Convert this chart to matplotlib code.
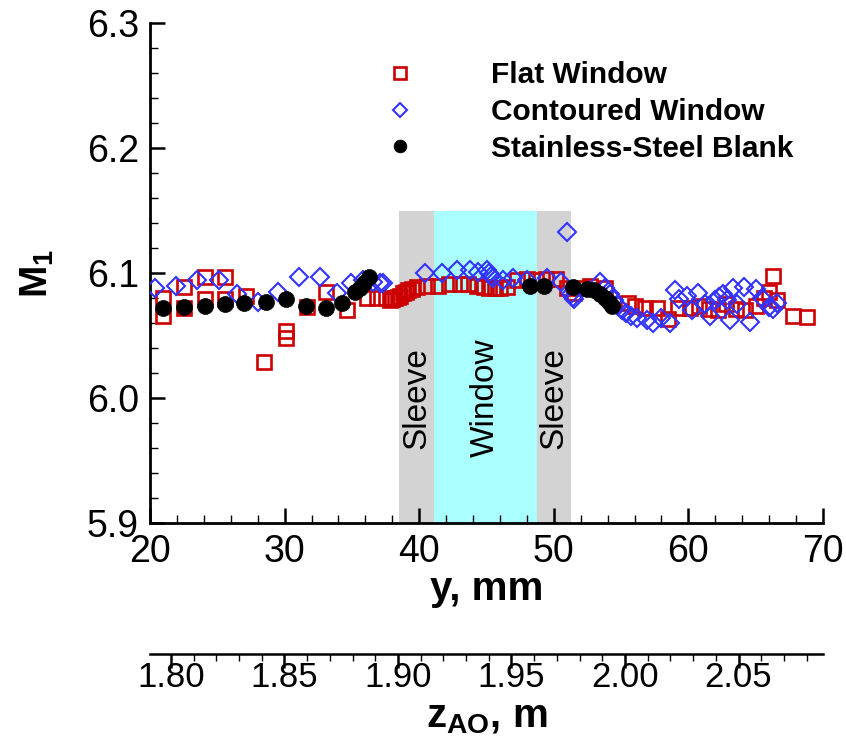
import matplotlib
matplotlib.use("Agg")
import matplotlib.pyplot as plt
from matplotlib.ticker import MultipleLocator, FormatStrFormatter

plt.rcParams['font.family'] = ['Liberation Sans', 'DejaVu Sans']
plt.rcParams['mathtext.fontset'] = 'custom'
plt.rcParams['mathtext.rm'] = 'Liberation Sans'
plt.rcParams['mathtext.bf'] = 'Liberation Sans:bold'

# ---- data ----
flat_y = [21.0, 21.0, 22.5, 22.5, 24.1, 24.1, 25.6, 25.6, 27.1, 28.5, 30.1, 30.1,
          31.7, 33.1, 34.6, 36.1, 36.9, 37.5, 37.8, 38.0, 38.2, 38.4, 38.6, 38.8,
          39.0, 39.2, 39.5, 39.8, 40.6, 41.4, 42.2, 43.0, 43.6, 44.3, 44.8, 45.2,
          45.6, 46.0, 46.5, 47.3, 48.0, 48.7, 49.4, 50.2, 51.0, 51.5, 52.0, 52.7,
          53.8, 55.5, 56.0, 56.8, 57.7, 58.5, 59.2, 60.1, 60.8, 61.5, 62.2, 62.8,
          63.5, 64.2, 65.0, 65.6, 66.0, 66.3, 66.6, 67.8, 68.8]
flat_M = [6.066, 6.080, 6.072, 6.089, 6.079, 6.097, 6.079, 6.097, 6.082, 6.029, 6.054, 6.048,
          6.073, 6.085, 6.070, 6.080, 6.080, 6.080, 6.078, 6.079, 6.080, 6.081, 6.082, 6.084,
          6.085, 6.086, 6.087, 6.089, 6.090, 6.090, 6.091, 6.091, 6.091, 6.090, 6.089, 6.088,
          6.088, 6.088, 6.089, 6.094, 6.095, 6.094, 6.095, 6.095, 6.088, 6.084, 6.088, 6.090,
          6.088, 6.076, 6.074, 6.072, 6.072, 6.063, 6.072, 6.072, 6.074, 6.071, 6.070, 6.075,
          6.071, 6.070, 6.074, 6.080, 6.085, 6.098, 6.078, 6.066, 6.065]

cont_y = [20.4, 21.9, 23.5, 25.1, 26.5, 28.0, 29.5, 31.1, 32.6, 33.9, 34.9, 35.8, 36.6,
          37.1, 37.3, 40.4, 41.7, 42.8, 43.8, 44.4, 45.0, 45.2, 45.3, 45.5, 46.2, 47.0,
          48.0, 49.5, 50.5, 51.0, 51.3, 51.4, 51.5, 53.4, 53.8, 54.2, 54.5, 54.8, 55.1,
          55.4, 55.7, 56.2, 56.9, 57.4, 58.0, 58.6, 59.0, 59.3, 59.9, 60.3, 60.7, 61.2,
          61.6, 62.0, 62.3, 62.6, 62.9, 63.1, 63.3, 63.6, 64.1, 64.6, 65.0, 65.5, 66.0,
          66.3, 66.6]
cont_M = [6.088, 6.090, 6.094, 6.094, 6.083, 6.077, 6.085, 6.097, 6.097, 6.084, 6.092, 6.094, 6.093,
          6.092, 6.092, 6.100, 6.100, 6.102, 6.102, 6.101, 6.102, 6.100, 6.098, 6.096, 6.094, 6.096,
          6.094, 6.096, 6.093, 6.133, 6.083, 6.081, 6.079, 6.093, 6.088, 6.083, 6.078, 6.074, 6.070,
          6.068, 6.066, 6.064, 6.062, 6.060, 6.064, 6.060, 6.086, 6.079, 6.082, 6.070, 6.084, 6.075,
          6.066, 6.078, 6.081, 6.083, 6.078, 6.062, 6.088, 6.075, 6.089, 6.061, 6.087, 6.080, 6.073,
          6.071, 6.076]

blank_y = [21.0, 22.5, 24.1, 25.6, 27.0, 28.6, 30.1, 31.6, 33.1, 34.3, 35.2, 35.6, 35.9,
           36.3, 48.2, 49.3, 51.4, 52.5, 53.0, 53.4, 53.8, 54.1, 54.3]
blank_M = [6.072, 6.073, 6.074, 6.075, 6.076, 6.077, 6.079, 6.074, 6.072, 6.076, 6.085, 6.088, 6.092,
           6.097, 6.090, 6.090, 6.089, 6.087, 6.086, 6.083, 6.080, 6.077, 6.074]

labels = ["Flat Window", "Contoured Window", "Stainless-Steel Blank"]
sleeve_left = (38.5, 41.1)
window = (41.1, 48.75)
sleeve_right = (48.75, 51.3)
band_top = 6.15

z_ticks = [1.80, 1.85, 1.90, 1.95, 2.00, 2.05]
z_lim = (1.7908, 2.0872)

# ---- figure ----
fig = plt.figure(figsize=(8.46, 7.45), dpi=100)
ax = fig.add_axes([150/846, 1-523/745, 673/846, 500/745])

ax.axvspan(*sleeve_left, ymin=0, ymax=(band_top-5.9)/0.4, color='#d3d3d3', lw=0, zorder=0)
ax.axvspan(*window, ymin=0, ymax=(band_top-5.9)/0.4, color='#aaffff', lw=0, zorder=0)
ax.axvspan(*sleeve_right, ymin=0, ymax=(band_top-5.9)/0.4, color='#d3d3d3', lw=0, zorder=0)

for txt, span in [("Sleeve", sleeve_left), ("Window", window), ("Sleeve", sleeve_right)]:
    ax.text((span[0]+span[1])/2, 6.0, txt, rotation=90, ha='center', va='center',
            fontsize=24, zorder=1)

h1, = ax.plot(flat_y, flat_M, ls='none', marker='s', ms=10, mfc='none', mec='#cc0000',
              mew=1.9, label=labels[0], zorder=3)
h2, = ax.plot(cont_y, cont_M, ls='none', marker='D', ms=9.3, mfc='none', mec='#3333ff',
              mew=1.5, label=labels[1], zorder=4)
h3, = ax.plot(blank_y, blank_M, ls='none', marker='o', ms=11.5, mfc='black', mec='black',
              mew=0.5, label=labels[2], zorder=5)

ax.set_xlim(20, 70)
ax.set_ylim(5.9, 6.3)
ax.xaxis.set_major_locator(MultipleLocator(10))
ax.xaxis.set_minor_locator(MultipleLocator(2))
ax.yaxis.set_major_locator(MultipleLocator(0.1))
ax.yaxis.set_minor_locator(MultipleLocator(0.02))
ax.yaxis.set_major_formatter(FormatStrFormatter('%.1f'))
for s in ['top', 'right']:
    ax.spines[s].set_visible(False)
for s in ['left', 'bottom']:
    ax.spines[s].set_linewidth(2)
ax.tick_params(which='major', direction='in', length=11, width=1.8, labelsize=27)
ax.tick_params(which='minor', direction='in', length=6, width=1.0)
ax.tick_params(axis='x', which='major', pad=8)
ax.tick_params(axis='y', which='major', pad=8)
ax.patch.set_alpha(0)

ax.set_xlabel('y, mm', fontsize=29, fontweight='bold', labelpad=0)
ax.set_ylabel(r'$\mathbf{M_1}$', fontsize=28, labelpad=22)

leg = ax.legend(loc='upper left', bbox_to_anchor=(0.349, 0.924), frameon=False,
                prop={'weight': 'bold', 'size': 21.5}, handlelength=1.0,
                handletextpad=2.55, labelspacing=0.30, borderpad=0, borderaxespad=0,
                markerscale=0.8)

# ---- secondary z axis ----
ax2 = fig.add_axes([150/846, 1-654/745, 673/846, 0.001])
ax2.set_xlim(*z_lim)
ax2.set_xticks(z_ticks)
ax2.xaxis.set_major_formatter(FormatStrFormatter('%.2f'))
ax2.xaxis.set_minor_locator(MultipleLocator(0.01))
ax2.set_yticks([])
for s in ['top', 'right', 'left']:
    ax2.spines[s].set_visible(False)
ax2.spines['bottom'].set_linewidth(1.8)
ax2.patch.set_alpha(0)
ax2.tick_params(axis='x', which='major', direction='out', length=0, labelsize=25, pad=5)
ax2.tick_params(axis='x', which='minor', direction='out', length=0)
for t in ax2.xaxis.get_major_ticks():
    t.tick1line.set_marker(3)  # TICKUP
    t.tick1line.set_markersize(10)
    t.tick1line.set_markeredgewidth(1.8)
for t in ax2.xaxis.get_minor_ticks():
    t.tick1line.set_marker(3)
    t.tick1line.set_markersize(5)
    t.tick1line.set_markeredgewidth(1.0)
ax2.set_xlabel(r'$\mathbf{z_{AO}}$, m', fontsize=29, fontweight='bold', labelpad=3)

fig.savefig('out.png', dpi=100)
